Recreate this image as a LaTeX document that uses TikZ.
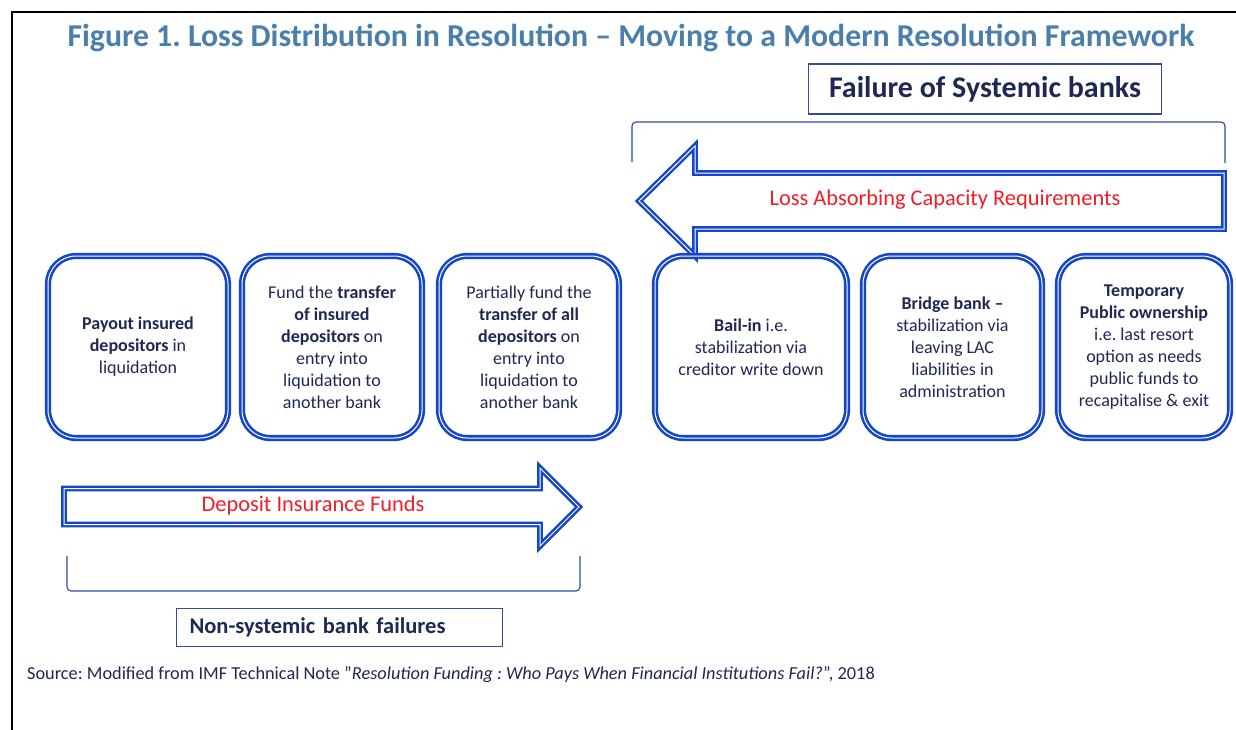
\documentclass[tikz,border=0pt]{standalone}
\usepackage{fontspec}
\setmainfont{Carlito}
\definecolor{titleblue}{RGB}{74,126,171}
\definecolor{navy}{RGB}{30,40,85}
\definecolor{cardblue}{RGB}{20,70,200}
\definecolor{brk}{RGB}{45,75,160}
\definecolor{lacred}{RGB}{240,30,40}
\tikzset{
  card/.style={draw=cardblue, double=white, double distance=1pt, line width=2.6pt,
    rounded corners=28pt, minimum height=182pt, align=center, text=navy,
    font=\fontsize{18}{22}\selectfont, inner sep=0pt},
  bigarrow/.style={draw=cardblue, double=white, double distance=1pt, line width=2.4pt, line join=miter},
  label box/.style={draw=brk, line width=1.6pt, text=navy, font=\bfseries, inner sep=0pt},
  bracket/.style={draw=brk, line width=1.1pt, rounded corners=4pt},
  redtext/.style={text=lacred, font=\fontsize{22.4}{26}\selectfont}
}
\begin{document}
\frenchspacing
\begin{tikzpicture}[x=1pt,y=-1pt]
\useasboundingbox (0,0) rectangle (1236,729);
\fill[white] (0,0) rectangle (1236,729);
% frame
\draw[line width=2.5pt, line cap=rect] (12,729) -- (12,12) -- (1236,12);
% title
\node[text=titleblue, font=\bfseries\fontsize{31.8}{36}\selectfont] (title) at (631,38)
  {Figure 1. Loss Distribution in Resolution -- Moving to a Modern Resolution Framework};
% systemic label
\node[label box, minimum width=353pt, minimum height=50pt, font=\bfseries\fontsize{30}{34}\selectfont] (sys) at (985,89) {Failure of Systemic banks};
% top bracket
\coordinate (tbl) at (632,162);
\coordinate (tbr) at (1225,163);
\draw[bracket] (tbl) -- (632,122) -- (1225,122) -- (tbr);
% LAC arrow
\draw[bigarrow] (639,201) -- (695,146) -- (695,173) -- (1224,173) -- (1224,229) -- (695,229) -- (695,256) -- cycle;
\node[redtext] (lac) at (945,200) {Loss Absorbing Capacity Requirements};
% cards
\node[card, minimum width=180pt] (c1) at (138,347)
  {\textbf{Payout insured}\\\textbf{depositors} in\\liquidation};
\node[card, minimum width=180pt] (c2) at (332,347)
  {Fund the \textbf{transfer}\\\textbf{of insured}\\\textbf{depositors} on\\entry into\\liquidation to\\another bank};
\node[card, minimum width=180pt] (c3) at (529,347)
  {Partially fund the\\\textbf{transfer of all}\\\textbf{depositors} on\\entry into\\liquidation to\\another bank};
\node[card, minimum width=192pt] (c4) at (751,347)
  {\textbf{Bail-in} i.e.\\stabilization via\\creditor write down};
\node[card, minimum width=179pt] (c5) at (952.5,347)
  {\textbf{Bridge bank --}\\stabilization via\\leaving LAC\\liabilities in\\administration};
\node[card, minimum width=172pt] (c6) at (1144,347)
  {\textbf{Temporary}\\\textbf{Public ownership}\\i.e. last resort\\option as needs\\public funds to\\recapitalise \& exit};
% deposit arrow
\draw[bigarrow] (64,488.5) -- (540,488.5) -- (540,468) -- (579,507) -- (540,546) -- (540,524.5) -- (64,524.5) -- cycle;
\node[redtext] (dif) at (313,506) {Deposit Insurance Funds};
% bottom bracket
\coordinate (bbl) at (67,556);
\coordinate (bbr) at (580,556);
\draw[bracket] (bbl) -- (67,591) -- (580,591) -- (bbr);
% non-systemic label
\node[label box, minimum width=326pt, minimum height=38pt, font=\bfseries\fontsize{22.5}{26}\selectfont, text width=300pt, align=left] (nonsys) at (339.5,627.5) {Non-systemic bank failures};
% source
\node[anchor=west, text=navy, font=\fontsize{18.3}{21}\selectfont, inner sep=0pt] (src) at (27,675)
  {Source: Modified from IMF Technical Note \symbol{34}\textit{Resolution Funding : Who Pays When Financial Institutions Fail?}\symbol{34}, 2018};
\end{tikzpicture}
\end{document}
